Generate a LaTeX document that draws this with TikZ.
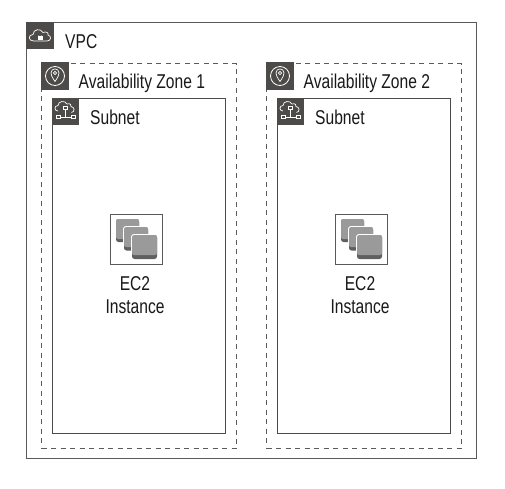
\documentclass[tikz,border=0pt]{standalone}
\usepackage{fontspec}
\setmainfont[FakeStretch=0.78]{Liberation Sans}
\definecolor{hdr}{HTML}{4D4B49}
\definecolor{lne}{HTML}{5A5A5A}
\definecolor{sqf}{HTML}{9A9A9A}
\definecolor{sqs}{HTML}{5F5F5F}
\tikzset{
  x=1pt,y=-1pt,
  vpcbox/.style={draw=lne,line width=1pt},
  azbox/.style={draw=lne,line width=1pt,dash pattern=on 5pt off 4.5pt},
  subnetbox/.style={draw=hdr,line width=1pt},
  ico/.style={draw=white,line width=0.7pt,fill=none},
  lbl/.style={font=\fontsize{20}{22}\selectfont,text=black!90,anchor=west,inner sep=0pt},
  ctr/.style={font=\fontsize{20}{22}\selectfont,text=black!90,inner sep=0pt},
  framebox/.style={draw=lne,line width=1pt,fill=white},
}
\newcommand{\azgroup}[2]{% x offset, tag
  \begin{scope}[xshift=#1pt]
    \node[azbox,minimum width=195pt,minimum height=385pt,anchor=north west,inner sep=0pt] (az#2) at (41,63) {};
    \fill[hdr] (41,62) rectangle (69,90);
    \draw[ico,line width=0.8pt] (55,76) circle (9.5);
    \draw[ico] (55,81.5) .. controls (52,77) and (51,75) .. (51,73) .. controls (51,67.5) and (59,67.5) .. (59,73) .. controls (59,75) and (58,77) .. (55,81.5) -- cycle;
    \draw[ico] (55,73) circle (1.6);
    \node[lbl] (azl#2) at (78.5,83) {Availability Zone #2};
    \node[subnetbox,minimum width=173pt,minimum height=335pt,anchor=north west,inner sep=0pt] (sn#2) at (51.5,97.5) {};
    \fill[hdr] (51.5,97.5) rectangle (79,125);
    \draw[ico] (58,111) .. controls (54,111) and (54,105.5) .. (58,105.5)
      .. controls (58,101) and (65,100) .. (67,104)
      .. controls (70,103) and (72,105) .. (71,106.5)
      .. controls (75,107) and (75,112) .. (71.5,112.5);
    \draw[ico,fill=hdr] (63.5,106) rectangle (67,109.5);
    \draw[ico] (65.3,109.5) -- (65.3,117);
    \draw[ico] (60,117) -- (71,117);
    \draw[ico,fill=hdr] (56,115.5) rectangle (60,118.5);
    \draw[ico,fill=hdr] (71,115.5) rectangle (75,118.5);
    \node[lbl] (snl#2) at (90,117) {Subnet};
    \node[framebox,minimum width=52pt,minimum height=50pt,anchor=north west,inner sep=0pt] (ec#2) at (110,214) {};
    \fill[sqs,rounded corners=2.5pt] (116,219) rectangle (139,242);
    \fill[sqf,rounded corners=2pt] (116,219) rectangle (139,239);
    \fill[sqs,rounded corners=2.5pt] (124,227) rectangle (148,250.5);
    \fill[sqf,rounded corners=2pt] (124,227) rectangle (148,247);
    \draw[white,line width=0.9pt,rounded corners=2.5pt] (123.5,250) -- (123.5,226.5) -- (148,226.5);
    \fill[sqs,rounded corners=2.5pt] (132,235) rectangle (157,259);
    \fill[sqf,rounded corners=2pt] (132,235) rectangle (157,255);
    \draw[white,line width=0.9pt,rounded corners=2.5pt] (131.5,259) -- (131.5,234.5) -- (157,234.5);
    \node[ctr] (ecl#2) at (135,284) {EC2};
    \node[ctr] (eci#2) at (135,307) {Instance};
  \end{scope}}
\begin{document}
\begin{tikzpicture}
  \useasboundingbox (0,0) rectangle (505,488);
  \fill[white] (0,0) rectangle (505,488);
  \node[vpcbox,minimum width=450pt,minimum height=436pt,anchor=north west,inner sep=0pt] (vpc) at (26,22) {};
  \fill[hdr] (26,22) rectangle (54,49);
  \draw[ico] (33.5,41) .. controls (28,41) and (28,34.5) .. (33,34.5)
    .. controls (33,29) and (41,28) .. (43,32.5)
    .. controls (46,31) and (49,33) .. (48,35)
    .. controls (52,36) and (51,41) .. (47,41) -- cycle;
  \fill[white] (37.5,35.5) rectangle (42.5,39.5);
  \draw[white,line width=0.6pt] (38.5,35.5) arc (180:0:1.5);
  \node[lbl] (vpcl) at (65,42) {VPC};
  \azgroup{0}{1}
  \azgroup{225}{2}
\end{tikzpicture}
\end{document}
